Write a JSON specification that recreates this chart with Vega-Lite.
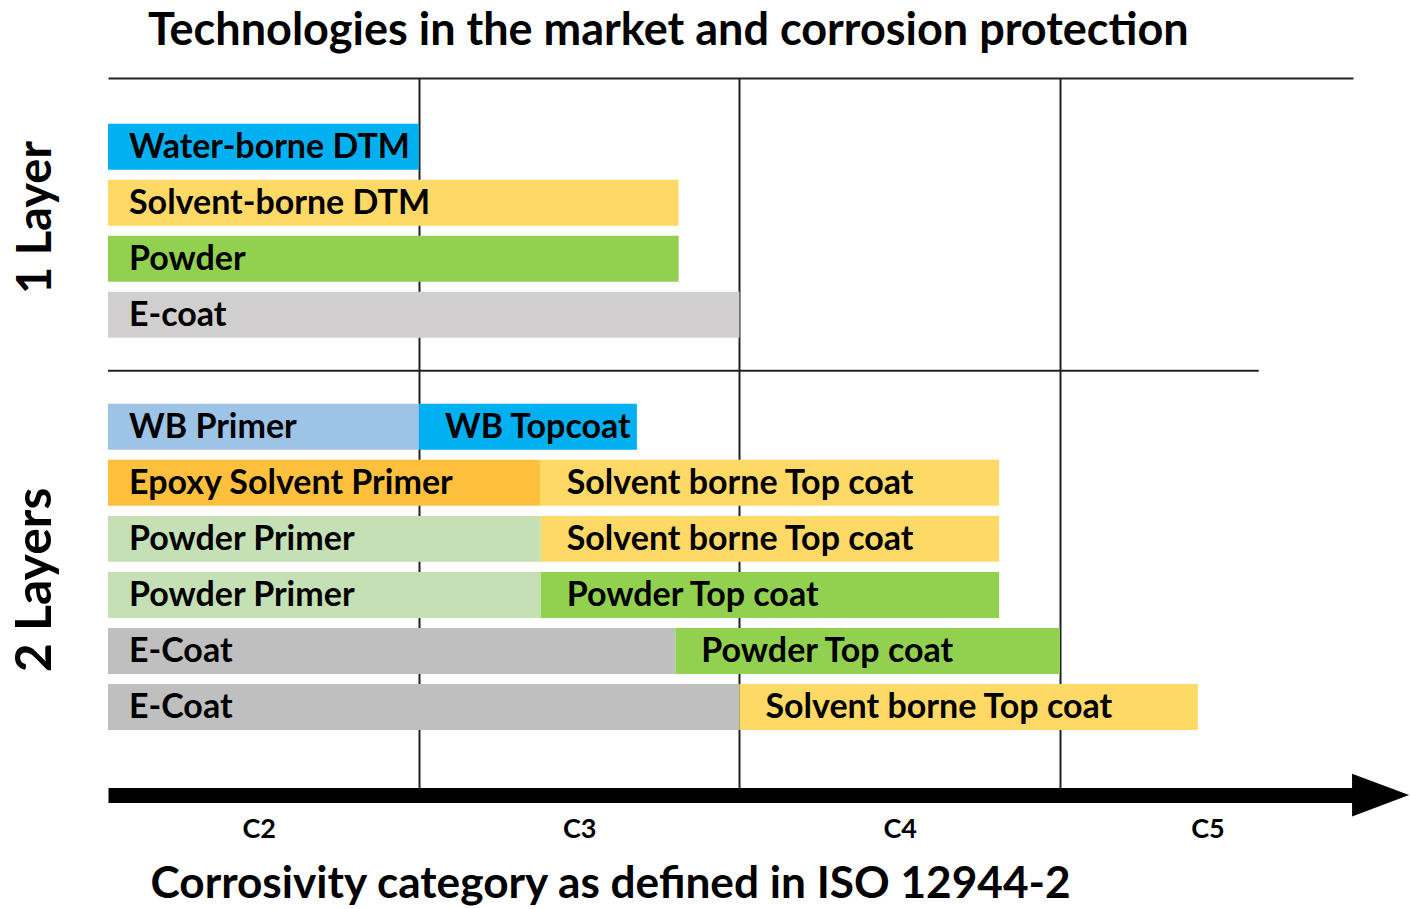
{
  "$schema": "https://vega.github.io/schema/vega-lite/v6.json",
  "width": 1245,
  "height": 717,
  "autosize": {"type": "none"},
  "padding": {"left": 108, "top": 78, "right": 57, "bottom": 114},
  "background": "white",
  "config": {"view": {"stroke": null}, "font": "Lato"},
  "title": {
    "text": "Technologies in the market and corrosion protection",
    "anchor": "start",
    "frame": "group",
    "dx": 40,
    "dy": 47,
    "offset": 35,
    "baseline": "alphabetic",
    "font": "Lato",
    "fontSize": 45,
    "fontWeight": "bold",
    "color": "black"
  },
  "datasets": {
    "segments": [
      {"layer": "1 Layer", "row": "Water-borne DTM", "part": 1, "name": "Water-borne DTM", "start": 1.03, "end": 2.0},
      {"layer": "1 Layer", "row": "Solvent-borne DTM", "part": 1, "name": "Solvent-borne DTM", "start": 1.03, "end": 2.81},
      {"layer": "1 Layer", "row": "Powder", "part": 1, "name": "Powder", "start": 1.03, "end": 2.81},
      {"layer": "1 Layer", "row": "E-coat", "part": 1, "name": "E-coat", "start": 1.03, "end": 3.0},
      {"layer": "2 Layers", "row": "WB Primer / WB Topcoat", "part": 1, "name": "WB Primer", "start": 1.03, "end": 2.0},
      {"layer": "2 Layers", "row": "WB Primer / WB Topcoat", "part": 2, "name": "WB Topcoat", "start": 2.0, "end": 2.68},
      {"layer": "2 Layers", "row": "Epoxy Solvent Primer / Solvent borne Top coat", "part": 1, "name": "Epoxy Solvent Primer", "start": 1.03, "end": 2.38},
      {"layer": "2 Layers", "row": "Epoxy Solvent Primer / Solvent borne Top coat", "part": 2, "name": "Solvent borne Top coat", "start": 2.38, "end": 3.81},
      {"layer": "2 Layers", "row": "Powder Primer / Solvent borne Top coat", "part": 1, "name": "Powder Primer", "start": 1.03, "end": 2.38},
      {"layer": "2 Layers", "row": "Powder Primer / Solvent borne Top coat", "part": 2, "name": "Solvent borne Top coat", "start": 2.38, "end": 3.81},
      {"layer": "2 Layers", "row": "Powder Primer / Powder Top coat", "part": 1, "name": "Powder Primer", "start": 1.03, "end": 2.38},
      {"layer": "2 Layers", "row": "Powder Primer / Powder Top coat", "part": 2, "name": "Powder Top coat", "start": 2.38, "end": 3.81},
      {"layer": "2 Layers", "row": "E-Coat / Powder Top coat", "part": 1, "name": "E-Coat", "start": 1.03, "end": 2.8},
      {"layer": "2 Layers", "row": "E-Coat / Powder Top coat", "part": 2, "name": "Powder Top coat", "start": 2.8, "end": 4.0},
      {"layer": "2 Layers", "row": "E-Coat / Solvent borne Top coat", "part": 1, "name": "E-Coat", "start": 1.03, "end": 3.0},
      {"layer": "2 Layers", "row": "E-Coat / Solvent borne Top coat", "part": 2, "name": "Solvent borne Top coat", "start": 3.0, "end": 4.43}
    ],
    "divider": [
      {"row": "divider", "from": 1.03, "to": 4.62}
    ],
    "arrow": [
      {"position": 5.0}
    ]
  },
  "encoding": {
    "y": {
      "field": "row",
      "type": "nominal",
      "sort": null,
      "scale": {
        "domain": [
          "Water-borne DTM", "Solvent-borne DTM", "Powder", "E-coat", "divider",
          "WB Primer / WB Topcoat",
          "Epoxy Solvent Primer / Solvent borne Top coat",
          "Powder Primer / Solvent borne Top coat",
          "Powder Primer / Powder Top coat",
          "E-Coat / Powder Top coat",
          "E-Coat / Solvent borne Top coat"
        ],
        "paddingInner": 0.179,
        "paddingOuter": 0.99,
        "align": 0.413
      },
      "axis": {
        "orient": "left",
        "title": null,
        "domain": false,
        "ticks": false,
        "tickSize": 0,
        "grid": false,
        "labelExpr": "datum.value == 'Solvent-borne DTM' ? '1 Layer' : (datum.value == 'Powder Primer / Powder Top coat' ? '2 Layers' : '')",
        "labelAngle": 270,
        "labelAlign": "center",
        "labelBaseline": "alphabetic",
        "labelPadding": 58,
        "labelOffset": {"condition": {"test": "datum.value == 'Solvent-borne DTM'", "value": 14.7}, "value": -15},
        "labelFont": "Lato",
        "labelFontSize": {"condition": {"test": "datum.value == 'Solvent-borne DTM'", "value": 47}, "value": 50},
        "labelFontWeight": "bold",
        "labelColor": "black",
        "labelLimit": 500,
        "labelOverlap": false
      }
    }
  },
  "layer": [
    {
      "data": {"name": "segments"},
      "mark": {"type": "bar"},
      "encoding": {
        "x": {
          "field": "start",
          "type": "quantitative",
          "scale": {"domain": [1.03, 4.914], "nice": false, "zero": false},
          "axis": {
            "orient": "bottom",
            "values": [1.5, 2.5, 3.5, 4.46],
            "labelExpr": "datum.value < 2 ? 'C2' : (datum.value < 3 ? 'C3' : (datum.value < 4 ? 'C4' : 'C5'))",
            "grid": false,
            "ticks": false,
            "tickSize": 0,
            "domain": true,
            "domainColor": "black",
            "domainWidth": 15,
            "labelPadding": 42,
            "labelBaseline": "alphabetic",
            "labelAlign": "center",
            "labelFlush": false,
            "labelOverlap": false,
            "labelFont": "Lato",
            "labelFontSize": 27,
            "labelFontWeight": "bold",
            "labelColor": "black",
            "title": "Corrosivity category as defined in ISO 12944-2",
            "titleX": 42,
            "titleY": 102,
            "titleAlign": "left",
            "titleAnchor": "start",
            "titleBaseline": "alphabetic",
            "titleFont": "Lato",
            "titleFontSize": 44.2,
            "titleFontWeight": "bold",
            "titleColor": "black"
          }
        },
        "x2": {"field": "end"},
        "color": {
          "field": "name",
          "type": "nominal",
          "scale": {
            "domain": ["Water-borne DTM", "Solvent-borne DTM", "Powder", "E-coat", "WB Primer", "WB Topcoat", "Epoxy Solvent Primer", "Solvent borne Top coat", "Powder Primer", "Powder Top coat", "E-Coat"],
            "range": ["#00B0F0", "#FFD966", "#92D050", "#D0CECE", "#9DC3E6", "#00B0F0", "#FFC03D", "#FFD966", "#C5E0B4", "#92D050", "#BFBFBF"]
          },
          "legend": null
        }
      }
    },
    {
      "data": {"name": "divider"},
      "mark": {"type": "rule", "color": "#222222", "strokeWidth": 2},
      "encoding": {
        "x": {
          "field": "from",
          "type": "quantitative",
          "scale": {"domain": [1.03, 4.914], "nice": false, "zero": false},
          "axis": {
            "orient": "top",
            "values": [2, 3, 4],
            "grid": true,
            "gridColor": "#222222",
            "gridWidth": 2,
            "labels": false,
            "ticks": false,
            "domain": true,
            "domainColor": "#222222",
            "domainWidth": 2,
            "title": null
          }
        },
        "x2": {"field": "to"},
        "y": {"field": "row", "type": "nominal", "bandPosition": 0.5}
      }
    },
    {
      "data": {"name": "segments"},
      "transform": [{"filter": "datum.part == 1"}],
      "mark": {"type": "text", "align": "left", "baseline": "middle", "dx": 21, "dy": 1, "font": "Lato", "fontSize": 34, "fontWeight": "bold", "color": "black"},
      "encoding": {
        "x": {"field": "start", "type": "quantitative", "scale": {"domain": [1.03, 4.914], "nice": false, "zero": false}, "axis": null},
        "y": {"field": "row", "type": "nominal", "bandPosition": 0.5},
        "text": {"field": "name"}
      }
    },
    {
      "data": {"name": "segments"},
      "transform": [{"filter": "datum.part == 2"}],
      "mark": {"type": "text", "align": "left", "baseline": "middle", "dx": 26, "dy": 1, "font": "Lato", "fontSize": 34, "fontWeight": "bold", "color": "black"},
      "encoding": {
        "x": {"field": "start", "type": "quantitative", "scale": {"domain": [1.03, 4.914], "nice": false, "zero": false}, "axis": null},
        "y": {"field": "row", "type": "nominal", "bandPosition": 0.5},
        "text": {"field": "name"}
      }
    },
    {
      "data": {"name": "arrow"},
      "mark": {"type": "point", "shape": "M-1,-0.75L1,0L-1,0.75Z", "filled": true, "color": "black", "opacity": 1, "size": 3249, "strokeWidth": 0},
      "encoding": {
        "x": {"field": "position", "type": "quantitative", "scale": {"domain": [1.03, 4.914], "nice": false, "zero": false}, "axis": null},
        "y": {"value": "height"}
      }
    }
  ],
  "resolve": {"axis": {"x": "independent"}}
}
